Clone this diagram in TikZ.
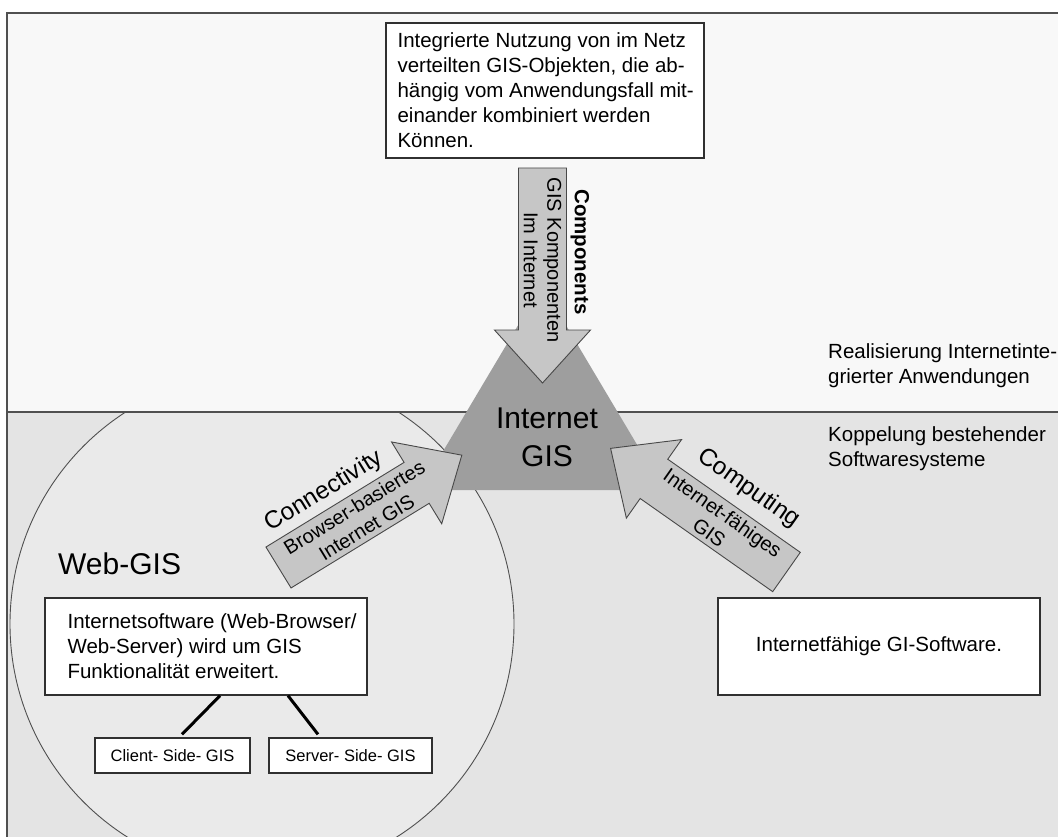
\documentclass[tikz,border=0pt]{standalone}
\usepackage{fontspec}
\setmainfont{Liberation Sans}
\usetikzlibrary{calc}

\definecolor{upperbg}{HTML}{F8F8F8}
\definecolor{lowerbg}{HTML}{E4E4E4}
\definecolor{circbg}{HTML}{EAEAEA}
\definecolor{framecol}{HTML}{505050}
\definecolor{coregray}{HTML}{9E9E9E}
\definecolor{arrowfill}{HTML}{C6C6C6}
\definecolor{arrowline}{HTML}{484848}
\definecolor{boxline}{HTML}{303030}

\tikzset{
  every node/.style={inner sep=0pt, text=black},
  body/.style={font=\fontsize{20.5}{25}\selectfont},
  box/.style={draw=boxline, line width=1.3pt, fill=white},
  smallbox/.style={box, font=\fontsize{16.5}{20}\selectfont, minimum height=35pt},
  fatarrow/.style={draw=arrowline, line width=0.9pt, fill=arrowfill, line join=miter},
  arrowtext/.style={align=center, font=\fontsize{20}{23.5}\selectfont},
  arrowlabel/.style={font=\fontsize{24.5}{28}\selectfont},
  twig/.style={line width=3pt, black}
}

\begin{document}
\begin{tikzpicture}[x=1pt,y=-1pt]
\useasboundingbox (0,0) rectangle (1058,837);

% lower band: coupling of existing systems
\fill[lowerbg] (7,412) rectangle (1058,837);
% Web-GIS circle
\draw[fill=circbg, draw=framecol, line width=0.9pt] (262,624) circle[radius=252];
% upper band: integrated internet applications
\fill[upperbg] (7,13) rectangle (1058,412);
\draw[framecol, line width=2pt] (7,412) -- (1058,412);
\draw[framecol, line width=2pt] (1058,13) -- (7,13) -- (7,837);

% central triangle
\fill[coregray] (542,285) -- (420,490) -- (664,490) -- cycle;
\node[align=center, font=\fontsize{30}{38}\selectfont] (core) at (547,437) {Internet\\GIS};

% Components arrow (top, pointing down)
\begin{scope}[shift={(542.5,168)}, rotate=-90]
  \draw[fatarrow] (0,-24) -- (162,-24) -- (162,-48) -- (215,0) -- (162,48) -- (162,24) -- (0,24) -- cycle;
  \node[arrowtext, rotate=-90] (comptext) at (92,0) {GIS Komponenten\\Im Internet};
  \node[font=\fontsize{20.5}{24}\selectfont\bfseries, rotate=-90] (complabel) at (84,-37.5) {Components};
\end{scope}

% Connectivity arrow (left, pointing up-right)
\begin{scope}[shift={(278.5,567.5)}, rotate=31.5]
  \draw[fatarrow] (0,-24) -- (162,-24) -- (162,-48) -- (215,0) -- (162,48) -- (162,24) -- (0,24) -- cycle;
  \node[arrowtext, rotate=31.5] (conntext) at (96,0) {Browser-basiertes\\Internet GIS};
  \node[arrowlabel, rotate=31.5] (connlabel) at (78.6,-41) {Connectivity};
\end{scope}

% Computing arrow (right, pointing up-left)
\begin{scope}[shift={(786.5,572)}, rotate=144.9]
  \draw[fatarrow] (0,-24) -- (162,-24) -- (162,-48) -- (215,0) -- (162,48) -- (162,24) -- (0,24) -- cycle;
  \node[arrowtext, rotate=-35.1] (comptgtext) at (86,0) {Internet-fähiges\\GIS};
  \node[arrowlabel, rotate=-35.1] (comptglabel) at (79,46.5) {Computing};
\end{scope}

% top description box
\node[box, minimum width=318pt, minimum height=135pt] (topbox) at (545,90.5) {};
\node[body, align=left, anchor=west] (toptext) at ($(topbox.west)+(12,0)$)
  {Integrierte Nutzung von im Netz\\verteilten GIS-Objekten, die ab-\\hängig vom Anwendungsfall mit-\\einander kombiniert werden\\Können.};

% band captions
\node[body, align=left, anchor=west] (upperlabel) at (828,366)
  {Realisierung Internetinte-\\grierter Anwendungen};
\node[body, align=left, anchor=west] (lowerlabel) at (828,449)
  {Koppelung bestehender\\Softwaresysteme};

% Web-GIS
\node[anchor=west, font=\fontsize{30}{36}\selectfont] (webgis) at (58,564) {Web-GIS};
\node[box, minimum width=322pt, minimum height=97pt] (webbox) at (206,646.5) {};
\node[body, align=left, anchor=west] (webtext) at ($(webbox.west)+(23,0)$)
  {Internetsoftware (Web-Browser/\\Web-Server) wird um GIS\\Funktionalität erweitert.};
\node[smallbox, minimum width=155pt] (client) at (172.5,755.5) {Client- Side- GIS};
\node[smallbox, minimum width=163pt] (server) at (350.5,755.5) {Server- Side- GIS};
\draw[twig] ($(webbox.south)+(14,0)$) -- ($(client.north)+(9.5,-3)$);
\draw[twig] ($(webbox.south)+(82,0)$) -- ($(server.north)+(-32.5,-3)$);

% internet-capable GI software
\node[box, body, minimum width=322pt, minimum height=97pt] (gisoft) at (879,646.5) {Internetfähige GI-Software.};
\end{tikzpicture}
\end{document}
